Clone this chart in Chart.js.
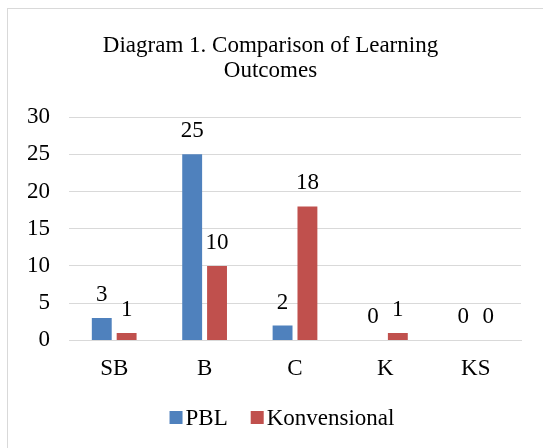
<!DOCTYPE html>
<html>
<head>
<meta charset="utf-8">
<script src="https://cdn.jsdelivr.net/npm/chart.js@4/dist/chart.umd.min.js"></script>
<style>
  html, body { margin: 0; padding: 0; background: #fff; }
  #wrap { width: 543px; height: 448px; position: relative; }
</style>
</head>
<body>
<div id="wrap"><canvas id="hasil"></canvas></div>
<script>
// data
var kategori = ['SB', 'B', 'C', 'K', 'KS'];
var nilaiPBL = [3, 25, 2, 0, 0];
var nilaiKonvensional = [1, 10, 18, 1, 0];
var tickY = [0, 5, 10, 15, 20, 25, 30];

var serif = "'Liberation Serif', 'Times New Roman', serif";
var ukuran = 23;

// frame around the chart
var bingkai = {
    id: 'bingkai',
    beforeDraw: function (chart) {
        var c = chart.ctx;
        c.save();
        c.fillStyle = '#fff';
        c.fillRect(0, 0, chart.width, chart.height);
        c.strokeStyle = '#d9d9d9';
        c.lineWidth = 1;
        c.strokeRect(7.5, 8.5, chart.width, chart.height);
        c.restore();
    }
};

// value labels above each bar
var labelNilai = {
    id: 'labelNilai',
    afterDatasetsDraw: function (chart) {
        var c = chart.ctx;
        c.save();
        c.font = ukuran + 'px ' + serif;
        c.fillStyle = '#000';
        c.textAlign = 'center';
        c.textBaseline = 'middle';
        chart.data.datasets.forEach(function (ds, i) {
            chart.getDatasetMeta(i).data.forEach(function (bar, j) {
                c.fillText(ds.data[j], bar.x, bar.y - 23);
            });
        });
        c.restore();
    }
};

// legend drawn by hand: small square, tight gap, then name
var legenda = {
    id: 'legenda',
    afterDraw: function (chart) {
        var c = chart.ctx;
        var kotak = 13, jarak = 3, antar = 23, tengahX = 282, tengahY = 418.5;
        c.save();
        c.font = ukuran + 'px ' + serif;
        c.textBaseline = 'middle';
        c.textAlign = 'left';
        var ds = chart.data.datasets;
        var total = 0;
        ds.forEach(function (d, i) {
            total += kotak + jarak + c.measureText(d.label).width;
            if (i < ds.length - 1) total += antar;
        });
        var x = tengahX - total / 2;
        ds.forEach(function (d) {
            c.fillStyle = d.backgroundColor;
            c.fillRect(x, tengahY - kotak / 2 - 1, kotak, kotak);
            x += kotak + jarak;
            c.fillStyle = '#000';
            c.fillText(d.label, x, tengahY);
            x += c.measureText(d.label).width + antar;
        });
        c.restore();
    }
};

var ctx = document.getElementById('hasil').getContext('2d');
var chart = new Chart(ctx, {
    type: 'bar',
    data: {
        labels: kategori,
        datasets: [{
            label: 'PBL',
            data: nilaiPBL,
            backgroundColor: '#4F81BD',
            categoryPercentage: 0.55,
            barPercentage: 0.8
        }, {
            label: 'Konvensional',
            data: nilaiKonvensional,
            backgroundColor: '#C0504D',
            categoryPercentage: 0.55,
            barPercentage: 0.8
        }]
    },
    options: {
        responsive: true,
        maintainAspectRatio: false,
        animation: false,
        layout: {
            padding: { left: 20, right: 22, top: 0, bottom: 50 }
        },
        scales: {
            x: {
                grid: { display: false, drawTicks: false },
                border: { color: '#d9d9d9' },
                ticks: {
                    padding: 15,
                    color: '#000',
                    font: { family: serif, size: ukuran }
                }
            },
            y: {
                min: 0,
                max: 30,
                afterBuildTicks: function (scale) {
                    scale.ticks = tickY.map(function (v) { return { value: v }; });
                },
                afterFit: function (scale) { scale.width = 49; },
                grid: { color: '#d9d9d9', drawTicks: false },
                border: { display: false },
                ticks: {
                    padding: 19,
                    color: '#000',
                    font: { family: serif, size: ukuran }
                }
            }
        },
        plugins: {
            title: {
                display: true,
                text: ['Diagram 1. Comparison of Learning', 'Outcomes'],
                color: '#000',
                font: { family: serif, size: ukuran, weight: 'normal', lineHeight: 1.11 },
                padding: { top: 33, bottom: 33 }
            },
            legend: { display: false },
            tooltip: { enabled: false }
        }
    },
    plugins: [bingkai, labelNilai, legenda]
});
</script>
</body>
</html>
